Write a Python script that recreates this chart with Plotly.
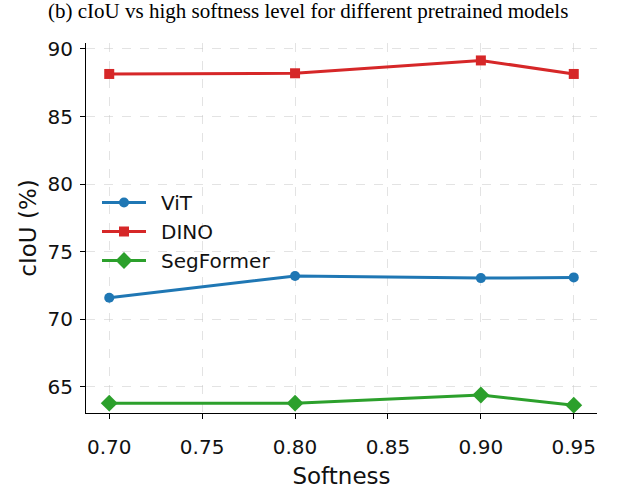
import plotly.graph_objects as go

softness = [0.70, 0.80, 0.90, 0.95]
vit = [71.6, 73.2, 73.05, 73.1]
dino = [88.15, 88.2, 89.15, 88.15]
segformer = [63.8, 63.8, 64.4, 63.65]

x_ticks = [0.70, 0.75, 0.80, 0.85, 0.90, 0.95]
y_ticks = [65, 70, 75, 80, 85, 90]

series = [
    ("ViT", vit, "#1f77b4", "circle", 10),
    ("DINO", dino, "#d62728", "square", 10),
    ("SegFormer", segformer, "#2ca02c", "diamond", 13),
]

W, H = 619, 490
plot_left, plot_right, plot_top, plot_bottom = 86, 597, 43, 413
plot_w = plot_right - plot_left
plot_h = plot_bottom - plot_top

fig = go.Figure()
for name, vals, color, sym, size in series:
    fig.add_trace(go.Scatter(
        x=softness, y=vals, name="\u2002" + name, mode="lines+markers",
        line=dict(color=color, width=3),
        marker=dict(symbol=sym, size=size, color=color),
    ))

axis_common = dict(
    showline=True, linecolor="black", linewidth=1.2, mirror=False,
    ticks="outside", ticklen=5, tickcolor="black", tickwidth=1.2,
    showgrid=True, gridcolor="rgba(200,200,200,0.5)", griddash="dash", gridwidth=1,
    zeroline=False,
    tickfont=dict(family="DejaVu Sans", size=20, color="#111"),
)

fig.update_xaxes(
    range=[0.6875, 0.9625], tickvals=x_ticks, tickformat=".2f",
    ticklabelstandoff=11,
    title=dict(text="Softness", font=dict(family="DejaVu Sans", size=23, color="#111"), standoff=9),
    **axis_common,
)
fig.update_yaxes(
    range=[63.07, 90.44], tickvals=y_ticks,
    ticklabelstandoff=3,
    title=dict(text="cIoU (%)", font=dict(family="DejaVu Sans", size=23, color="#111"), standoff=4),
    **axis_common,
)

leg_left = 97
leg_top = 183
fig.update_layout(
    width=W, height=H,
    margin=dict(l=plot_left, r=W - plot_right, t=plot_top, b=H - plot_bottom, autoexpand=False),
    plot_bgcolor="white", paper_bgcolor="white",
    showlegend=True,
    legend=dict(
        x=(leg_left - plot_left) / plot_w, y=1 - (leg_top - plot_top) / plot_h,
        xanchor="left", yanchor="top",
        bgcolor="rgba(0,0,0,0)",
        font=dict(family="DejaVu Sans", size=20, color="#111"),
        tracegroupgap=0, itemwidth=44,
    ),
    annotations=[dict(
        text="(b) cIoU vs high softness level for different pretrained models",
        x=(308 - plot_left) / plot_w, xref="paper", xanchor="center",
        y=1 + (plot_top - 11) / plot_h, yref="paper", yanchor="middle", showarrow=False,
        font=dict(family="Liberation Serif", size=21, color="black"),
    )],
)

fig.write_html("out.html", config={"displayModeBar": False},
               post_script="document.body.style.margin='0';")
